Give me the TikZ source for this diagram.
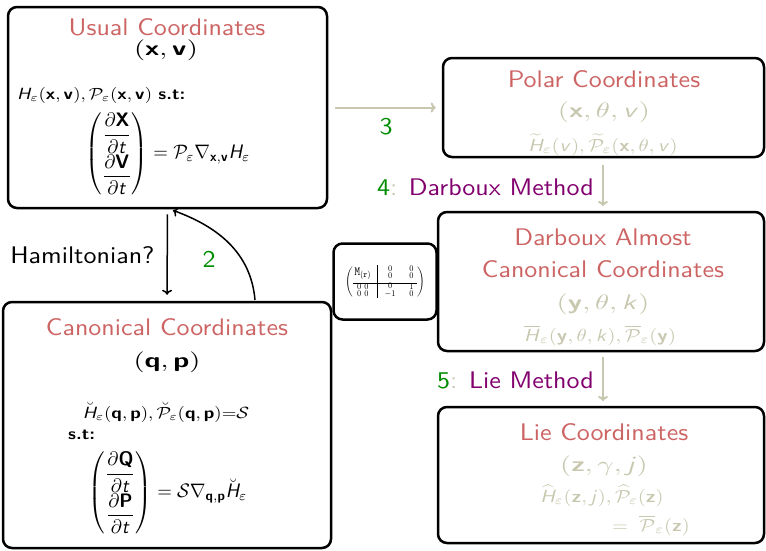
\RequirePackage{fix-cm}
\documentclass[tikz,border=0pt]{standalone}
\usepackage{amsmath}
\usepackage{graphicx}
\usetikzlibrary{calc,arrows.meta}
\DeclareMathAlphabet{\mathsfit}{OT1}{cmss}{m}{sl}
\DeclareMathAlphabet{\mathsfbf}{OT1}{cmss}{bx}{n}
\definecolor{ttlred}{RGB}{205,100,100}
\definecolor{fadegray}{RGB}{200,200,176}
\definecolor{numgreen}{RGB}{0,140,0}
\definecolor{methpurple}{RGB}{130,0,110}
\newcommand\ttlsc[1]{\scalebox{2.6}[2.4]{#1}}
\newcommand\crdsc[1]{\scalebox{2.85}[2.1]{#1}}
\newcommand\frmsc[1]{\scalebox{1.88}[1.62]{#1}}
\newcommand\eqsc[1]{\scalebox{1.88}[1.95]{#1}}
\newcommand\gfrmsc[1]{\scalebox{2.05}[1.75]{#1}}
\newcommand\sH{\mathsfit{H}}
\newcommand\st{\mathsfit{t}}
\newcommand\bb[1]{\mathsfbf{#1}}
\begin{document}
\begin{tikzpicture}[x=1pt,y=-1pt,
  cbox/.style={draw=black, line width=2.5pt, rounded corners=9pt, inner sep=0pt},
  ttl/.style={font=\sffamily, text=ttlred, anchor=base, inner sep=0pt},
  coordtxt/.style={font=\sffamily, inner sep=0pt},
  formtxt/.style={font=\sffamily, inner sep=0pt},
  lbl/.style={font=\sffamily, inner sep=0pt},
  fadearrow/.style={draw=fadegray, line width=2pt, -{To[length=5pt,width=10pt]}},
  blkarrow/.style={draw=black, line width=1.5pt, -{To[length=5pt,width=10pt]}}
]
\useasboundingbox (0,0) rectangle (766,550);

% boxes
\node[cbox, minimum width=319pt, minimum height=201pt] (usual) at (167.5,107.5) {};
\node[cbox, minimum width=328pt, minimum height=246pt] (canon) at (167,425) {};
\node[cbox, minimum width=321pt, minimum height=99pt] (polar) at (603.5,107.5) {};
\node[cbox, minimum width=326pt, minimum height=139pt] (darb) at (601,281.5) {};
\node[cbox, minimum width=103pt, minimum height=76pt] (mbox) at (385,281.5) {};
\node[cbox, minimum width=326pt, minimum height=136pt] (lie) at (601,475) {};

% matrix
\node[inner sep=0pt] (mat) at (mbox.center)
 {\scalebox{1.05}[1.25]{$\left(\begin{array}{@{\,}c@{\;\;}|@{\;\;}c@{\quad}c@{\,}}
   \mathtt{M}_{(\mathtt{r})} & \begin{smallmatrix}0\\0\end{smallmatrix} & \begin{smallmatrix}0\\0\end{smallmatrix}\\[2pt]
   \hline
   \begin{smallmatrix}0&0\\0&0\end{smallmatrix} & \begin{smallmatrix}0\\-1\end{smallmatrix} & \begin{smallmatrix}1\\0\end{smallmatrix}
  \end{array}\right)$}};

% usual box text
\node[ttl] (usualttl) at (167,35) {\ttlsc{Usual Coordinates}};
\node[coordtxt, anchor=base] (usualxv) at (166,55) {\crdsc{$(\bb{x},\bb{v})$}};
\node[formtxt, anchor=base west] (usualH) at (17,99)
 {\frmsc{$\sH_\varepsilon(\bb{x},\bb{v}), \mathcal{P}_\varepsilon(\bb{x},\bb{v})$ \textbf{s.t:}}};
\node[formtxt] (usualeq) at (168,154)
 {\eqsc{$\begin{pmatrix}\dfrac{\partial\bb{X}}{\partial \st}\\[4pt] \dfrac{\partial\bb{V}}{\partial \st}\end{pmatrix}
   = \mathcal{P}_\varepsilon\nabla_{\bb{x},\bb{v}}\sH_\varepsilon$}};

% canonical box text
\node[ttl] (canonttl) at (167,335) {\ttlsc{Canonical Coordinates}};
\node[coordtxt, anchor=base] (canonqp) at (167,367) {\crdsc{$(\bb{q},\bb{p})$}};
\node[formtxt, anchor=base] (canonH) at (166,418)
 {\frmsc{$\breve{\sH}_\varepsilon(\bb{q},\bb{p}), \breve{\mathcal{P}}_\varepsilon(\bb{q},\bb{p}){=}\mathcal{S}$}};
\node[formtxt, anchor=base west] (canonst) at (68,439) {\frmsc{\textbf{s.t:}}};
\node[formtxt] (canoneq) at (168,493)
 {\eqsc{$\begin{pmatrix}\dfrac{\partial\bb{Q}}{\partial \st}\\[4pt] \dfrac{\partial\bb{P}}{\partial \st}\end{pmatrix}
   = \mathcal{S}\nabla_{\bb{q},\bb{p}}\breve{\sH}_\varepsilon$}};

% polar box text
\node[ttl] (polarttl) at (604,87) {\ttlsc{Polar Coordinates}};
\node[coordtxt, text=fadegray, anchor=base] (polarxv) at (604,117) {\crdsc{$(\bb{x},\theta,\mathsfit{v})$}};
\node[formtxt, text=fadegray, anchor=base] (polarH) at (603,151)
 {\gfrmsc{$\widetilde{\sH}_\varepsilon(\mathsfit{v}), \widetilde{\mathcal{P}}_\varepsilon(\bb{x},\theta,\mathsfit{v})$}};

% darboux box text
\node[ttl] (darbttl1) at (603,245) {\ttlsc{Darboux Almost}};
\node[ttl] (darbttl2) at (603,277) {\ttlsc{Canonical Coordinates}};
\node[coordtxt, text=fadegray, anchor=base] (darbyk) at (603,309) {\crdsc{$(\bb{y},\theta,\mathsfit{k})$}};
\node[formtxt, text=fadegray, anchor=base] (darbH) at (600,341)
 {\gfrmsc{$\overline{\sH}_\varepsilon(\bb{y},\theta,\mathsfit{k}), \overline{\mathcal{P}}_\varepsilon(\bb{y})$}};

% lie box text
\node[ttl] (liettl) at (604,440) {\ttlsc{Lie Coordinates}};
\node[coordtxt, text=fadegray, anchor=base] (liezj) at (604,471) {\crdsc{$(\bb{z},\gamma,\mathsfit{j})$}};
\node[formtxt, text=fadegray, anchor=base] (lieH) at (602,502)
 {\gfrmsc{$\widehat{\sH}_\varepsilon(\bb{z},\mathsfit{j}), \widehat{\mathcal{P}}_\varepsilon(\bb{z})$}};
\node[formtxt, text=fadegray, anchor=base] (lieeq) at (651,531)
 {\gfrmsc{$=\;\overline{\mathcal{P}}_\varepsilon(\bb{z})$}};

% connectors
\draw[blkarrow, shorten <=5pt, shorten >=6pt] (usual.south) -- node[lbl, left=12pt] (hamlbl) {\ttlsc{Hamiltonian?}} (canon.north);
\coordinate (c2start) at (255,300);
\coordinate (c2end) at (172,210);
\draw[blkarrow, shorten >=1pt] (c2start) to[out=95,in=-20] (c2end);
\node[lbl, text=numgreen] (lbltwo) at (209,259) {\ttlsc{2}};

\draw[fadearrow, shorten <=7pt, shorten >=6pt] (usual.east) -- (polar.west);
\node[lbl, text=numgreen] (lblthree) at (386,127) {\ttlsc{3}};

\coordinate (a4s) at (603,157);
\coordinate (a4e) at (603,212);
\draw[fadearrow, shorten <=8pt, shorten >=6pt] (a4s) -- (a4e);
\node[lbl, anchor=east] (lblfour) at (594,187)
 {\ttlsc{\textcolor{numgreen}{4}\textcolor{fadegray}{:} \textcolor{methpurple}{Darboux Method}}};

\coordinate (a5s) at (603,351);
\coordinate (a5e) at (603,407);
\draw[fadearrow, shorten <=6pt, shorten >=6pt] (a5s) -- (a5e);
\node[lbl, anchor=east] (lblfive) at (594,380)
 {\ttlsc{\textcolor{numgreen}{5}\textcolor{fadegray}{:} \textcolor{methpurple}{Lie Method}}};
\end{tikzpicture}
\end{document}
